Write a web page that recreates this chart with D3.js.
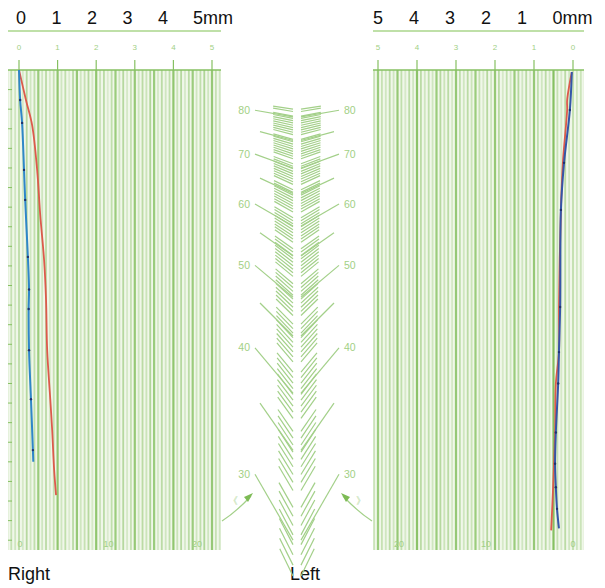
<!DOCTYPE html>
<html>
<head>
<meta charset="utf-8">
<script src="https://cdn.jsdelivr.net/npm/d3@7"></script>
<style>
body { margin: 0; background: #fff; }
svg { display: block; }
text { font-family: "Liberation Sans", Arial, sans-serif; }
</style>
</head>
<body>
<script>
// ruler ticks (mm) and bottom scale labels
const mmTicks = [0, 1, 2, 3, 4, 5]
const bottomTicks = [0, 10, 20]

// stripe darkness, one per 0.1 mm starting at -0.3 mm
const leftStripes = [0.3, 0.4, 0.3, 0.5, 0.25, 0.55, 0.3, 0.45, 0.8, 0.3, 0.5, 0.25, 0.4, 0.9, 0.3, 0.45, 0.2, 0.5, 0.85, 0.3,
    0.4, 0.55, 0.25, 0.9, 0.35, 0.5, 0.2, 0.45, 0.8, 0.3, 0.55, 0.25, 0.4, 0.85, 0.3, 0.5, 0.35, 0.6, 0.8, 0.25,
    0.5, 0.3, 0.45, 0.9, 0.35, 0.55, 0.25, 0.5, 0.8, 0.3, 0.45, 0.6, 0.3, 0.85, 0.4, 0.3, 0.3]
const rightStripes = [0.25, 0.35, 0.3, 0.45, 0.3, 0.5, 0.25, 0.4, 1.0, 0.3, 0.5, 0.3, 0.45, 0.85, 0.25, 0.5, 0.3, 0.55, 0.8, 0.3,
    0.45, 0.25, 0.5, 0.85, 0.3, 0.55, 0.25, 0.4, 0.8, 0.35, 0.5, 0.3, 0.45, 0.85, 0.25, 0.5, 0.35, 0.55, 0.8, 0.3,
    0.45, 0.3, 0.5, 0.95, 0.3, 0.5, 0.25, 0.45, 0.85, 0.3, 0.5, 0.3, 0.4, 0.8, 0.35, 0.3, 0.3]

// traces: [displacement mm, time]
const rightRed = [[0, 0], [0.18, 1.53], [0.34, 2.81], [0.47, 5.1], [0.55, 7.4], [0.65, 9.7], [0.70, 11.7],
    [0.73, 14.3], [0.81, 16.8], [0.86, 18.4], [0.91, 20.4], [0.96, 21.7]]
const rightBlue = [[0, 0], [0.03, 1.53], [0.08, 2.7], [0.13, 5.1], [0.16, 6.63], [0.23, 9.54], [0.26, 11.2],
    [0.25, 12.2], [0.26, 14.3], [0.31, 16.8], [0.36, 19.4], [0.37, 20.0]]
const leftRed = [[0.03, 0.1], [0.15, 1.53], [0.15, 2.04], [0.26, 4.74], [0.31, 7.14], [0.36, 12.1], [0.36, 14.4],
    [0.44, 16.0], [0.46, 18.5], [0.51, 21.3], [0.56, 23.5]]
const leftBlue = [[0.03, 0.1], [0.08, 2.04], [0.23, 4.74], [0.31, 7.14], [0.33, 12.1], [0.36, 14.4], [0.38, 16.0],
    [0.44, 18.5], [0.46, 20.1], [0.44, 21.3], [0.41, 22.4], [0.36, 23.4]]

// herringbone angle gauge (degrees)
const angleLabels = [80, 70, 60, 50, 40, 30]
const angleMajors = [75, 65, 55, 45, 35]
const angleSteps = d3.range(81, 25.5, -0.5)

const width = 605
const height = 588
const green = "#86c062"
const pale = "#a2d085"

const svg = d3.select("body").append("svg")
    .attr("width", width)
    .attr("height", height)

const y = d3.scaleLinear().domain([0, 24.5]).range([70, 550])

function panel(x, bottom, stripes, red, blue, blueColor, x0, x1) {
    const g = svg.append("g")

    g.append("rect")
        .attr("x", x0).attr("y", 70)
        .attr("width", x1 - x0).attr("height", 480)
        .attr("fill", "#f0f7e9")

    const clip = "clip" + Math.round(x0)
    g.append("clipPath").attr("id", clip)
        .append("rect").attr("x", x0).attr("y", 70).attr("width", x1 - x0).attr("height", 480)

    g.append("g").attr("clip-path", `url(#${clip})`)
        .selectAll("line")
        .data(stripes)
        .enter()
        .append("line")
        .attr("x1", (d, i) => x(-0.3 + i * 0.1))
        .attr("x2", (d, i) => x(-0.3 + i * 0.1))
        .attr("y1", 70).attr("y2", 550)
        .attr("stroke", green)
        .attr("stroke-width", d => d > 0.7 ? 2.2 : 1.8)
        .attr("stroke-opacity", d => d)

    // ruler
    g.append("line").attr("x1", x0).attr("x2", x1).attr("y1", 31).attr("y2", 31)
        .attr("stroke", "#bfe0a8").attr("stroke-width", 2)
    g.append("line").attr("x1", x0).attr("x2", x1).attr("y1", 70).attr("y2", 70)
        .attr("stroke", green).attr("stroke-width", 1.5)
    g.selectAll(".tick").data(mmTicks).enter().append("line")
        .attr("x1", d => x(d)).attr("x2", d => x(d))
        .attr("y1", 60).attr("y2", 70)
        .attr("stroke", green).attr("stroke-width", 1.2)
    g.selectAll(".rl").data(mmTicks).enter().append("text")
        .attr("x", d => x(d)).attr("y", 50)
        .attr("text-anchor", "middle")
        .attr("font-size", 8)
        .attr("fill", pale)
        .text(d => d)

    g.selectAll(".bl").data(bottomTicks).enter().append("text")
        .attr("x", d => bottom(d)).attr("y", 547)
        .attr("text-anchor", "middle")
        .attr("font-size", 9)
        .attr("fill", pale)
        .text(d => d)

    const line = d3.line()
        .x(d => x(d[0]))
        .y(d => y(d[1]))
        .curve(d3.curveCatmullRom)

    g.append("path").attr("d", line(red))
        .attr("fill", "none").attr("stroke", "#dc5a4c").attr("stroke-width", 1.8)
    g.append("path").attr("d", line(blue))
        .attr("fill", "none").attr("stroke", blueColor).attr("stroke-width", 2)
    g.selectAll(".dot").data(blue.slice(1, -1)).enter().append("circle")
        .attr("cx", d => x(d[0])).attr("cy", d => y(d[1]))
        .attr("r", 1.2).attr("fill", "#1f3270")
    return g
}

const xL = d3.scaleLinear().domain([0, 5]).range([19, 212])
const xR = d3.scaleLinear().domain([0, 5]).range([573, 378])
const bL = d3.scaleLinear().domain([0, 20]).range([20, 197])
const bR = d3.scaleLinear().domain([0, 20]).range([573, 399])

const left = panel(xL, bL, leftStripes, rightRed, rightBlue, "#2f86c8", 8, 221)
const right = panel(xR, bR, rightStripes, leftRed, leftBlue, "#3556a8", 373, 584)

// left edge ticks on the right-hand recording
left.selectAll(".yt").data(d3.range(1, 25)).enter().append("line")
    .attr("x1", 8).attr("x2", 12)
    .attr("y1", d => y(d)).attr("y2", d => y(d))
    .attr("stroke", green).attr("stroke-width", 1)

// mm labels above
const topL = d3.scaleLinear().domain([0, 5]).range([21, 198.5])
const topR = d3.scaleLinear().domain([0, 5]).range([558, 378])
function mmLabels(s, unitAt) {
    svg.append("g").selectAll("text").data(mmTicks).enter().append("text")
        .attr("x", d => d === unitAt ? s(d) - 5.5 : s(d))
        .attr("y", 24)
        .attr("text-anchor", d => d === unitAt ? "start" : "middle")
        .attr("font-size", 18)
        .attr("fill", "#111")
        .text(d => d === unitAt ? d + "mm" : d)
}
mmLabels(topL, 5)
mmLabels(topR, 0)

svg.append("text").attr("x", 8).attr("y", 580).attr("font-size", 18).attr("fill", "#111").text("Right")
svg.append("text").attr("x", 290).attr("y", 580).attr("font-size", 18).attr("fill", "#111").text("Left")

// herringbone gauge: height follows the cotangent of the angle
const rad = a => a * Math.PI / 180
const gy = d3.scaleLinear().domain([0, 1]).range([69, 303])
const cot = a => 1 / Math.tan(rad(a))
const mid = 297
const gauge = svg.append("g").attr("stroke", "#a3d089").attr("fill", "none").attr("stroke-width", 1.2)

function stroke(a, inner, outer) {
    const yy = gy(cot(a))
    const dy = (outer - inner) * cot(a)
    gauge.append("line")
        .attr("x1", mid - outer).attr("y1", yy)
        .attr("x2", mid - inner).attr("y2", yy + dy)
    gauge.append("line")
        .attr("x1", mid + outer).attr("y1", yy)
        .attr("x2", mid + inner).attr("y2", yy + dy)
}

angleSteps.forEach(a => {
    if (angleLabels.includes(a)) stroke(a, 4, 42)
    else if (angleMajors.includes(a)) stroke(a, 4, 37)
    else stroke(a, 4, 4 + 20 * Math.sqrt(Math.sin(rad(a))))
})

svg.append("g").selectAll("text").data(angleLabels).enter().append("text")
    .attr("x", mid - 47).attr("y", d => gy(cot(d)) + 3.5)
    .attr("text-anchor", "end").attr("font-size", 10.5).attr("fill", pale)
    .text(d => d)
svg.append("g").selectAll("text").data(angleLabels).enter().append("text")
    .attr("x", mid + 47).attr("y", d => gy(cot(d)) + 3.5)
    .attr("text-anchor", "start").attr("font-size", 10.5).attr("fill", pale)
    .text(d => d)

// little direction arrows by the 30 mark
function arrow(sign) {
    const g = svg.append("g")
    g.append("path")
        .attr("d", `M${mid - sign * 75},521 Q${mid - sign * 61},512 ${mid - sign * 46},496`)
        .attr("fill", "none").attr("stroke", "#a3d089").attr("stroke-width", 1.2)
    g.append("path")
        .attr("d", `M${mid - sign * 44},493 L${mid - sign * 53},497 L${mid - sign * 49},502 Z`)
        .attr("fill", "#7dbb55")
    g.append("text")
        .attr("x", mid - sign * 64).attr("y", 504)
        .attr("text-anchor", "middle").attr("font-size", 10).attr("fill", pale)
        .text(sign > 0 ? "《" : "》")
}
arrow(1)
arrow(-1)
</script>
</body>
</html>
